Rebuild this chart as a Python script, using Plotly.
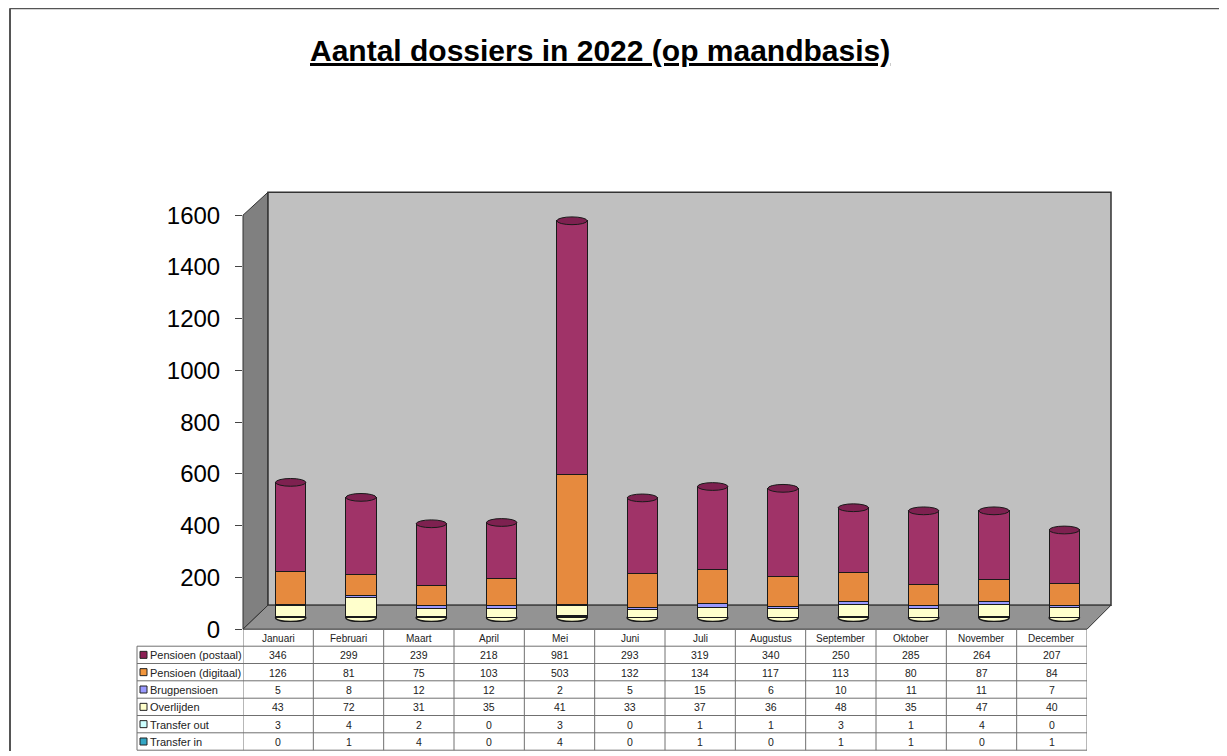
import plotly.graph_objects as go

# ---------------- data ----------------
months = ["Januari", "Februari", "Maart", "April", "Mei", "Juni", "Juli",
          "Augustus", "September", "Oktober", "November", "December"]
pensioen_postaal = [346, 299, 239, 218, 981, 293, 319, 340, 250, 285, 264, 207]
pensioen_digitaal = [126, 81, 75, 103, 503, 132, 134, 117, 113, 80, 87, 84]
brugpensioen = [5, 8, 12, 12, 2, 5, 15, 6, 10, 11, 11, 7]
overlijden = [43, 72, 31, 35, 41, 33, 37, 36, 48, 35, 47, 40]
transfer_out = [3, 4, 2, 0, 3, 0, 1, 1, 3, 1, 4, 0]
transfer_in = [0, 1, 4, 0, 4, 0, 1, 0, 1, 1, 0, 1]
y_ticks = [0, 200, 400, 600, 800, 1000, 1200, 1400, 1600]

# stack order bottom -> top
series_names = ["Transfer in", "Transfer out", "Overlijden", "Brugpensioen",
                "Pensioen (digitaal)", "Pensioen (postaal)"]
series_values = [transfer_in, transfer_out, overlijden, brugpensioen,
                 pensioen_digitaal, pensioen_postaal]
series_colors = ["#33A6C4", "#CCFFFF", "#FFFFCC", "#9999FF", "#E68A3E", "#A03368"]
key_colors = ["#33A6C4", "#CCFFFF", "#FFFFCC", "#9999FF", "#F2963C", "#8C1F55"]

# ---------------- layout helpers ----------------
W, H = 1227, 756
# observed placement of the figure in the photographed page
OX, OY, SH = 8.0, 21.8, 729.0


def px(x):
    return (x - OX) / W


def py(y):
    return 1 - (y - OY) / SH


FONT = "Liberation Sans, Arial, sans-serif"
BAR_W = 0.43
CAP = 15  # half-height of the cylinder caps, in data units
PX_PER_UNIT = 414 / 1600

fig = go.Figure()
for name, vals, col in zip(series_names, series_values, series_colors):
    fig.add_trace(go.Bar(
        x=months, y=vals, name=name, xaxis="x2", yaxis="y2",
        marker=dict(color=col, line=dict(color="#1a1a1a", width=1)),
        width=BAR_W, showlegend=False,
    ))

shapes = []
# 3D walls (decoration)
shapes.append(dict(type="path", xref="paper", yref="paper", layer="below",
                   path=f"M {px(243)},{py(629)} L {px(243)},{py(215)} L {px(268)},{py(192)} L {px(268)},{py(605)} Z",
                   fillcolor="#808080", line=dict(color="#333333", width=1)))
shapes.append(dict(type="rect", xref="paper", yref="paper", layer="below",
                   x0=px(268), x1=px(1111), y0=py(605), y1=py(192),
                   fillcolor="#C0C0C0", line=dict(color="#333333", width=1.5)))
shapes.append(dict(type="path", xref="paper", yref="paper", layer="below",
                   path=f"M {px(243)},{py(629)} L {px(268)},{py(605)} L {px(1111)},{py(605)} L {px(1087)},{py(629)} Z",
                   fillcolor="#939393", line=dict(color="#333333", width=1)))
# outer frame
shapes.append(dict(type="line", xref="paper", yref="paper", x0=px(10), x1=1, y0=py(8), y1=py(8),
                   line=dict(color="#555555", width=2)))
shapes.append(dict(type="line", xref="paper", yref="paper", x0=px(10), x1=px(10), y0=py(8), y1=0,
                   line=dict(color="#555555", width=2)))

# cylinder bottoms and tops (from stacked totals, in data coordinates)
totals = [sum(s[i] for s in series_values) for i in range(len(months))]
for i, t in enumerate(totals):
    shapes.append(dict(type="circle", xref="x2", yref="y2", layer="between",
                       x0=i - BAR_W / 2, x1=i + BAR_W / 2, y0=-CAP, y1=CAP,
                       fillcolor="#FFFFCC", line=dict(color="#1a1a1a", width=1.5)))
    shapes.append(dict(type="circle", xref="x2", yref="y2", layer="above",
                       x0=i - BAR_W / 2, x1=i + BAR_W / 2, y0=t - CAP, y1=t + CAP,
                       fillcolor="#7E2150", line=dict(color="#1a1a1a", width=1)))

# data table grid
row_lines = [646, 663.3, 680.6, 698, 715.3, 732.6, 750]
grid_col = "#707070"
for i, yl in enumerate(row_lines):
    shapes.append(dict(type="line", xref="paper", yref="paper", x0=px(137), x1=px(1087),
                       y0=py(yl), y1=py(yl), line=dict(color=grid_col, width=1)))
shapes.append(dict(type="line", xref="paper", yref="paper", x0=px(137), x1=px(137),
                   y0=py(646), y1=py(750), line=dict(color=grid_col, width=1)))
for k in range(len(months) + 1):
    shapes.append(dict(type="line", xref="x", yref="paper", x0=k - 0.5, x1=k - 0.5,
                       y0=py(629), y1=py(750), line=dict(color=grid_col, width=1)))

annotations = []
# title
annotations.append(dict(xref="paper", yref="paper", x=px(600), y=py(50),
                        text="<b><u>Aantal dossiers in 2022 (op maandbasis)</u></b>",
                        showarrow=False, font=dict(family=FONT, size=30, color="#000000"),
                        xanchor="center", yanchor="middle"))
# month header
for m in months:
    annotations.append(dict(xref="x", yref="paper", x=m, y=py(638.5), text=m, showarrow=False,
                            font=dict(family=FONT, size=10, color="#222222"),
                            xanchor="center", yanchor="middle"))
# rows (top -> bottom in table)
table_rows = list(zip(series_names, series_values, key_colors))[::-1]
for r, (name, vals, kc) in enumerate(table_rows):
    yc = (row_lines[r] + row_lines[r + 1]) / 2
    shapes.append(dict(type="rect", xref="paper", yref="paper",
                       x0=px(140), x1=px(147), y0=py(yc + 3.5), y1=py(yc - 3.5),
                       fillcolor=kc, line=dict(color="#222222", width=1)))
    annotations.append(dict(xref="paper", yref="paper", x=px(148), y=py(yc + 0.5), text=name,
                            showarrow=False, font=dict(family=FONT, size=11, color="#222222"),
                            xanchor="left", yanchor="middle"))
    for m, v in zip(months, vals):
        annotations.append(dict(xref="x", yref="paper", x=m, y=py(yc + 0.5), text=str(v),
                                showarrow=False, font=dict(family=FONT, size=10.5, color="#222222"),
                                xanchor="center", yanchor="middle"))

fig.update_layout(
    width=W, height=H,
    margin=dict(l=0, r=0, t=0, b=0),
    paper_bgcolor="white", plot_bgcolor="rgba(0,0,0,0)",
    barmode="stack",
    showlegend=False,
    xaxis=dict(domain=[px(243), px(1087)], type="category", categoryorder="array",
               categoryarray=months, range=[-0.5, 11.5], showticklabels=False,
               showgrid=False, zeroline=False, showline=False, ticks="", anchor="y"),
    yaxis=dict(domain=[py(629), py(215)], range=[0, 1600], tickvals=y_ticks,
               ticks="outside", ticklen=7, tickcolor="#444444", tickwidth=1,
               ticklabelstandoff=10,
               tickfont=dict(family=FONT, size=24, color="#000000"),
               showgrid=False, zeroline=False, showline=False, anchor="x"),
    xaxis2=dict(domain=[px(255.5), px(1099.5)], type="category", categoryorder="array",
                categoryarray=months, range=[-0.5, 11.5], visible=False, anchor="y2"),
    yaxis2=dict(domain=[py(617.5 + (CAP + 2) * PX_PER_UNIT), py(203.5)], range=[-(CAP + 2), 1600],
                visible=False, anchor="x2"),
    shapes=shapes,
    annotations=annotations,
)

fig.write_html("out.html")
